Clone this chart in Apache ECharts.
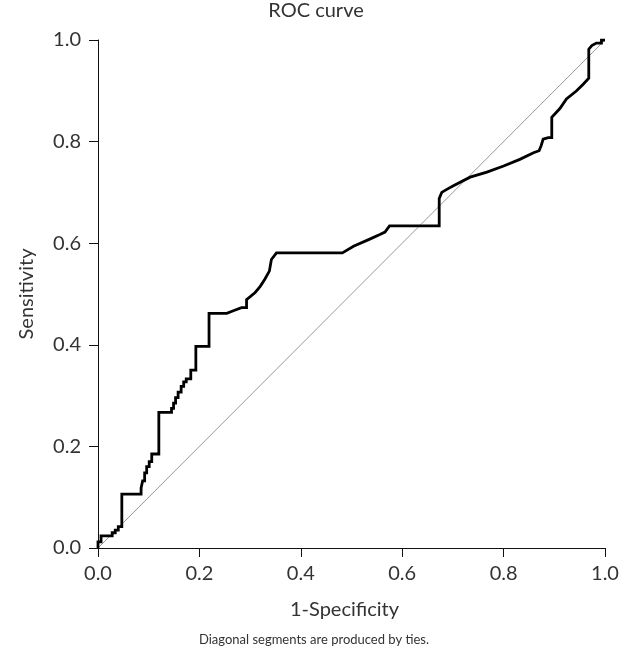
<!DOCTYPE html>
<html>
<head>
<meta charset="utf-8">
<script src="https://cdn.jsdelivr.net/npm/echarts@6/dist/echarts.min.js"></script>
<style>
  html, body { margin: 0; padding: 0; background: #fff; }
  #chart { width: 628px; height: 652px; }
</style>
</head>
<body>
<div id="chart"></div>
<script>
// ROC curve vertices (1-specificity, sensitivity)
const fpr = [0, 0, 0.006, 0.006, 0.028, 0.028, 0.034, 0.034, 0.04, 0.04, 0.047, 0.047, 0.085, 0.085, 0.088, 0.088,
  0.092, 0.092, 0.096, 0.096, 0.101, 0.101, 0.106, 0.106, 0.12, 0.12, 0.145, 0.145, 0.149, 0.149, 0.153, 0.153,
  0.158, 0.158, 0.164, 0.164, 0.169, 0.169, 0.174, 0.174, 0.183, 0.183, 0.193, 0.193, 0.219, 0.219, 0.254, 0.267,
  0.283, 0.293, 0.293, 0.31, 0.32, 0.329, 0.338, 0.342, 0.352, 0.482, 0.504, 0.536, 0.556, 0.566, 0.575, 0.673,
  0.673, 0.678, 0.688, 0.701, 0.734, 0.767, 0.8, 0.832, 0.859, 0.87, 0.874, 0.878, 0.888, 0.895, 0.895, 0.911,
  0.924, 0.944, 0.957, 0.968, 0.968, 0.974, 0.983, 0.993, 0.993, 1.0]
const tpr = [0, 0.012, 0.012, 0.024, 0.024, 0.03, 0.03, 0.035, 0.035, 0.042, 0.042, 0.106, 0.106, 0.118, 0.118, 0.132,
  0.132, 0.148, 0.148, 0.16, 0.16, 0.17, 0.17, 0.185, 0.185, 0.267, 0.267, 0.275, 0.275, 0.285, 0.285, 0.296,
  0.296, 0.307, 0.307, 0.318, 0.318, 0.327, 0.327, 0.333, 0.333, 0.35, 0.35, 0.397, 0.397, 0.462, 0.462, 0.467,
  0.473, 0.473, 0.489, 0.503, 0.515, 0.529, 0.545, 0.568, 0.581, 0.581, 0.594, 0.608, 0.617, 0.622, 0.634, 0.634,
  0.688, 0.7, 0.706, 0.713, 0.73, 0.74, 0.752, 0.765, 0.778, 0.782, 0.792, 0.805, 0.808, 0.808, 0.848, 0.865,
  0.884, 0.9, 0.913, 0.925, 0.982, 0.989, 0.994, 0.994, 1.0, 1.0]
const refLine = [[0, 0], [1, 1]]
const tickLabels = ['0.0', '0.2', '0.4', '0.6', '0.8', '1.0']

const font = 'Lato, "Open Sans", sans-serif'
const textColor = '#333'
const chart = echarts.init(document.getElementById('chart'))

const axisCommon = {
  type: 'value',
  min: 0,
  max: 1,
  interval: 0.2,
  splitLine: { show: false },
  axisLine: { show: true, lineStyle: { color: '#111', width: 1 } },
  axisTick: { show: true, length: 9, lineStyle: { color: '#111' } },
  axisLabel: {
    color: textColor, fontSize: 20, fontFamily: font,
    formatter: v => tickLabels[Math.round(v * 5)]
  },
  nameTextStyle: { color: textColor, fontSize: 20, fontFamily: font }
}

chart.setOption({
  animation: false,
  title: [
    {
      text: 'ROC curve', left: 316, top: 1, textAlign: 'center', padding: 0,
      textStyle: { fontSize: 20, fontWeight: 'normal', color: textColor, fontFamily: font }
    },
    {
      text: 'Diagonal segments are produced by ties.', left: 314, top: 633, textAlign: 'center', padding: 0,
      textStyle: { fontSize: 13, fontWeight: 'normal', color: textColor, fontFamily: font }
    }
  ],
  grid: { left: 98, right: 23, top: 40, bottom: 104 },
  xAxis: Object.assign({}, axisCommon, {
    name: '1-Specificity', nameLocation: 'middle', nameGap: 52,
    nameTextStyle: Object.assign({}, axisCommon.nameTextStyle, { padding: [0, 14, 0, 0] }),
    axisLabel: Object.assign({}, axisCommon.axisLabel, { margin: 16 })
  }),
  yAxis: Object.assign({}, axisCommon, {
    name: 'Sensitivity', nameLocation: 'middle', nameGap: 61,
    axisLabel: Object.assign({}, axisCommon.axisLabel, { margin: 17 })
  }),
  series: [
    {
      type: 'line',
      data: refLine,
      symbol: 'none',
      lineStyle: { color: '#999', width: 1 },
      silent: true
    },
    {
      type: 'line',
      data: fpr.map((x, i) => [x, tpr[i]]),
      symbol: 'none',
      lineStyle: { color: '#000', width: 2.8, join: 'miter' },
      silent: true
    }
  ]
})
</script>
</body>
</html>
